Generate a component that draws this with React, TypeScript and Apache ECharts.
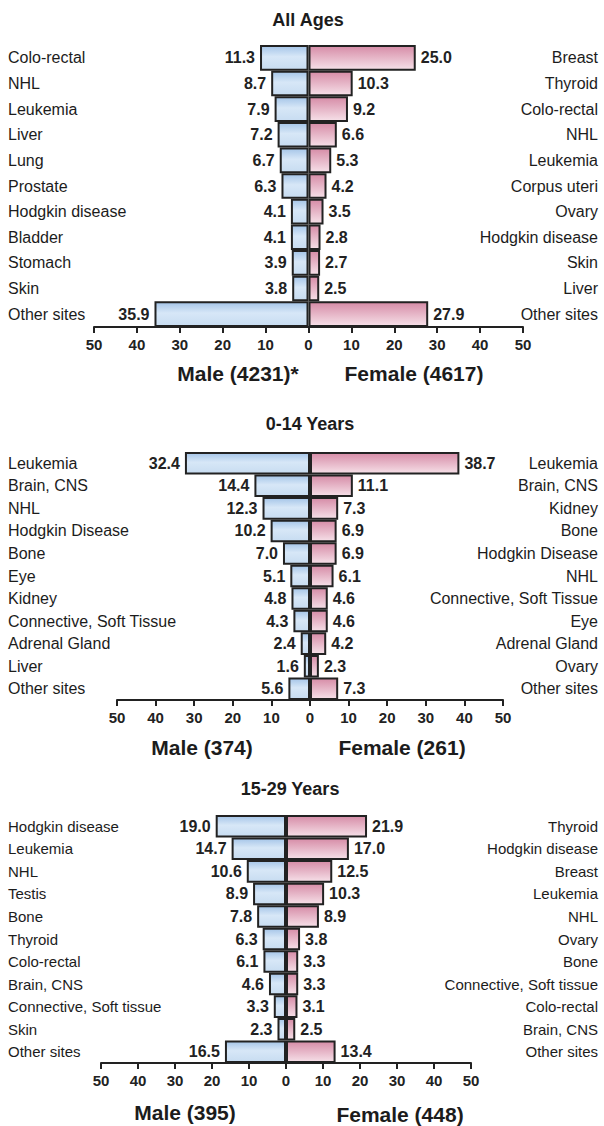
import { useEffect, useRef } from 'react';
import * as echarts from 'echarts';

// ---------- data ----------
const panelTitles = ['All Ages', '0-14 Years', '15-29 Years'];
const maleTitles = ['Male (4231)*', 'Male (374)', 'Male (395)'];
const femaleTitles = ['Female (4617)', 'Female (261)', 'Female (448)'];

const allMaleSites = ['Colo-rectal', 'NHL', 'Leukemia', 'Liver', 'Lung', 'Prostate', 'Hodgkin disease', 'Bladder', 'Stomach', 'Skin', 'Other sites'];
const allMaleValues = [11.3, 8.7, 7.9, 7.2, 6.7, 6.3, 4.1, 4.1, 3.9, 3.8, 35.9];
const allFemaleSites = ['Breast', 'Thyroid', 'Colo-rectal', 'NHL', 'Leukemia', 'Corpus uteri', 'Ovary', 'Hodgkin disease', 'Skin', 'Liver', 'Other sites'];
const allFemaleValues = [25.0, 10.3, 9.2, 6.6, 5.3, 4.2, 3.5, 2.8, 2.7, 2.5, 27.9];

const kidMaleSites = ['Leukemia', 'Brain, CNS', 'NHL', 'Hodgkin Disease', 'Bone', 'Eye', 'Kidney', 'Connective, Soft Tissue', 'Adrenal Gland', 'Liver', 'Other sites'];
const kidMaleValues = [32.4, 14.4, 12.3, 10.2, 7.0, 5.1, 4.8, 4.3, 2.4, 1.6, 5.6];
const kidFemaleSites = ['Leukemia', 'Brain, CNS', 'Kidney', 'Bone', 'Hodgkin Disease', 'NHL', 'Connective, Soft Tissue', 'Eye', 'Adrenal Gland', 'Ovary', 'Other sites'];
const kidFemaleValues = [38.7, 11.1, 7.3, 6.9, 6.9, 6.1, 4.6, 4.6, 4.2, 2.3, 7.3];

const youngMaleSites = ['Hodgkin disease', 'Leukemia', 'NHL', 'Testis', 'Bone', 'Thyroid', 'Colo-rectal', 'Brain, CNS', 'Connective, Soft tissue', 'Skin', 'Other sites'];
const youngMaleValues = [19.0, 14.7, 10.6, 8.9, 7.8, 6.3, 6.1, 4.6, 3.3, 2.3, 16.5];
const youngFemaleSites = ['Thyroid', 'Hodgkin disease', 'Breast', 'Leukemia', 'NHL', 'Ovary', 'Bone', 'Connective, Soft tissue', 'Colo-rectal', 'Brain, CNS', 'Other sites'];
const youngFemaleValues = [21.9, 17.0, 12.5, 10.3, 8.9, 3.8, 3.3, 3.3, 3.1, 2.5, 13.4];

const axisMin = -50;
const axisMax = 50;
const axisInterval = 10;

const panels = [
  { maleSites: allMaleSites, maleValues: allMaleValues, femaleSites: allFemaleSites, femaleValues: allFemaleValues },
  { maleSites: kidMaleSites, maleValues: kidMaleValues, femaleSites: kidFemaleSites, femaleValues: kidFemaleValues },
  { maleSites: youngMaleSites, maleValues: youngMaleValues, femaleSites: youngFemaleSites, femaleValues: youngFemaleValues },
];

// ---------- layout ----------
const W = 604;
const H = 1126;
const layout = [
  { left: 94, right: 523, top: 45, bottom: 327, catFont: 16, titleX: 308, titleY: 20, maleY: 373, femaleY: 373, maleX: 238, femaleX: 414 },
  { left: 117, right: 503, top: 452, bottom: 700, catFont: 16, titleX: 310, titleY: 424, maleY: 747, femaleY: 747, maleX: 202, femaleX: 402 },
  { left: 101, right: 471, top: 815, bottom: 1063, catFont: 15, titleX: 290, titleY: 789, maleY: 1112, femaleY: 1114, maleX: 185, femaleX: 400 },
];

const FONT = "'Liberation Sans', Arial, Helvetica, sans-serif";
const INK = '#1c1c1c';

const maleFill = new echarts.graphic.LinearGradient(0, 0, 0, 1, [
  { offset: 0, color: '#a5c5e8' },
  { offset: 0.45, color: '#d7e7f7' },
  { offset: 1, color: '#c7dcf1' },
]);
const femaleFill = new echarts.graphic.LinearGradient(0, 0, 0, 1, [
  { offset: 0, color: '#d68ca7' },
  { offset: 1, color: '#f6e0e8' },
]);

export default function App() {
  const ref = useRef<HTMLDivElement>(null);

  useEffect(() => {
    document.body.style.margin = '0';
    if (!ref.current) return;
    const chart = echarts.init(ref.current, undefined, { renderer: 'svg' });

    const grid: any[] = [];
    const xAxis: any[] = [];
    const yAxis: any[] = [];
    const series: any[] = [];
    const graphic: any[] = [];

    panels.forEach((p, i) => {
      const L = layout[i];
      grid.push({ left: L.left, width: L.right - L.left, top: L.top, height: L.bottom - L.top, containLabel: false });
      xAxis.push({
        type: 'value',
        gridIndex: i,
        min: axisMin,
        max: axisMax,
        interval: axisInterval,
        axisLine: { show: true, lineStyle: { color: '#222', width: 2 } },
        axisTick: { show: true, length: 6, lineStyle: { color: '#222', width: 2 } },
        axisLabel: {
          formatter: (v: number) => String(Math.abs(v)),
          fontFamily: FONT,
          fontWeight: 'bold',
          fontSize: 15,
          color: '#222',
          margin: 10,
        },
        splitLine: { show: false },
      });
      yAxis.push({
        type: 'category',
        gridIndex: i,
        position: 'left',
        inverse: true,
        data: p.maleSites,
        axisLine: { show: false },
        axisTick: { show: false },
        axisLabel: { align: 'left', margin: L.left - 8, fontFamily: FONT, fontSize: L.catFont, color: INK },
      });
      yAxis.push({
        type: 'category',
        gridIndex: i,
        position: 'right',
        inverse: true,
        data: p.femaleSites,
        axisLine: { show: false },
        axisTick: { show: false },
        axisLabel: { align: 'right', margin: 598 - L.right, fontFamily: FONT, fontSize: L.catFont, color: INK },
      });
      const labelStyle = {
        show: true,
        distance: 5,
        fontFamily: FONT,
        fontWeight: 'bold',
        fontSize: 16,
        color: '#222',
        formatter: (d: any) => Math.abs(d.value).toFixed(1),
      };
      series.push({
        type: 'bar',
        name: 'Male ' + i,
        xAxisIndex: i,
        yAxisIndex: 2 * i,
        data: p.maleValues.map((v) => -v),
        barWidth: '100%',
        itemStyle: { color: maleFill, borderColor: '#222', borderWidth: 2 },
        label: { ...labelStyle, position: 'left' },
      });
      series.push({
        type: 'bar',
        name: 'Female ' + i,
        xAxisIndex: i,
        yAxisIndex: 2 * i + 1,
        data: p.femaleValues,
        barWidth: '100%',
        itemStyle: { color: femaleFill, borderColor: '#222', borderWidth: 2 },
        label: { ...labelStyle, position: 'right' },
      });

      graphic.push({
        type: 'text',
        x: L.titleX,
        y: L.titleY,
        style: { text: panelTitles[i], fontFamily: FONT, fontWeight: 'bold', fontSize: 18, fill: INK, align: 'center', verticalAlign: 'middle' },
      });
      graphic.push({
        type: 'text',
        x: L.maleX,
        y: L.maleY,
        style: { text: maleTitles[i], fontFamily: FONT, fontWeight: 'bold', fontSize: 21, fill: INK, align: 'center', verticalAlign: 'middle' },
      });
      graphic.push({
        type: 'text',
        x: L.femaleX,
        y: L.femaleY,
        style: { text: femaleTitles[i], fontFamily: FONT, fontWeight: 'bold', fontSize: 21, fill: INK, align: 'center', verticalAlign: 'middle' },
      });
    });

    chart.setOption({
      animation: false,
      backgroundColor: '#ffffff',
      textStyle: { fontFamily: FONT },
      grid,
      xAxis,
      yAxis,
      series,
      graphic,
    });

    return () => chart.dispose();
  }, []);

  return <div ref={ref} style={{ width: W, height: H }} />;
}
